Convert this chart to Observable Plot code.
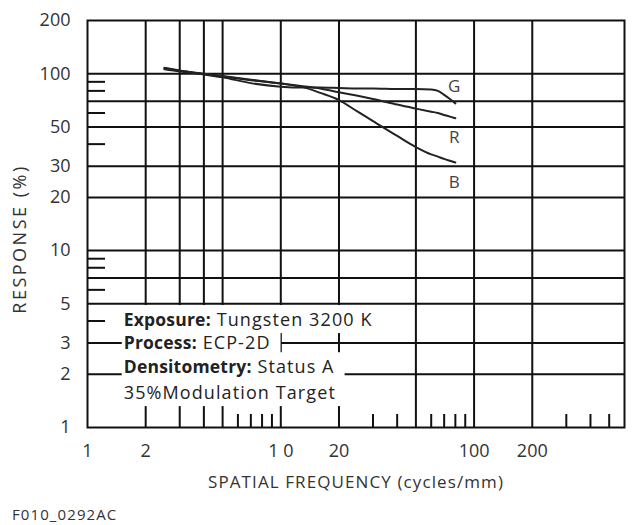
<!DOCTYPE html>
<html><head><meta charset="utf-8">
<script src="https://cdn.jsdelivr.net/npm/d3@7"></script>
<script src="https://cdn.jsdelivr.net/npm/@observablehq/plot@0.6"></script>
<style>
body{margin:0;background:#fff;}
#chart{position:relative;width:642px;height:525px;font-family:"Open Sans",sans-serif;}
#caption{position:absolute;left:12px;top:504px;font-size:15px;letter-spacing:1.1px;color:#333;font-family:"Open Sans",sans-serif;}
</style></head><body><div id="chart"></div>
<script>
// Spatial frequency (cycles/mm) sample points
const freq  = [2.5, 3, 4, 5, 7, 10, 13, 16, 20, 25, 30, 40, 50, 60, 65, 70, 75, 80];
// Response (%) per layer
const respG = [108, 104.5, 99, 95.5, 88.5, 84.5, 83.5, 83.5, 83, 82.5, 82.5, 82, 82, 81.5, 80, 76, 72, 68];
const respR = [106, 103, 99.5, 96.5, 92, 88, 85, 82.5, 78.5, 75, 72, 67, 63.5, 61, 60, 58.5, 57.2, 56];
const respB = [107, 104, 100, 97, 92.5, 88, 84, 78, 71, 61, 54, 44.5, 38.5, 35, 34, 33, 32.2, 31.5];
const seriesNames = ["G", "R", "B"];
const labelFreq = 79;
const labelResp = [84.7, 43.3, 24.3];

const xTicks = [1, 2, 3, 4, 5, 10, 20, 50, 100, 200, 600];
const xTickLabels = ["1", "2", "3", "4", "5", "1 0", "20", "50", "100", "200", "600"];
const yTicks = [1, 2, 3, 5, 7, 10, 20, 30, 50, 70, 100, 200];
const xGrid = [2, 3, 4, 5, 10, 20, 50, 100, 200];
const yGrid = [2, 3, 5, 7, 10, 20, 30, 50, 70, 100];
const xMinor = [6, 7, 8, 9, 30, 40, 60, 70, 80, 90, 300, 400, 500];
const yMinor = [4, 6, 8, 9, 40, 60, 80, 90];

const xTitle = "SPATIAL FREQUENCY (cycles/mm)";
const yTitle = "RESPONSE (%)";
const notes = ["Exposure: Tungsten 3200 K", "Process: ECP-2D", "Densitometry: Status A", "35%Modulation Target"];
const noteFreq = 1.54;
const noteResp = [4.03, 2.985, 2.18, 1.557];

const data = freq.flatMap((f, i) => [
  {f, r: respG[i], s: "G"},
  {f, r: respR[i], s: "R"},
  {f, r: respB[i], s: "B"}
]);

const ink = "#111";
const plot = Plot.plot({
  width: 642, height: 500,
  marginLeft: 87, marginRight: 18, marginTop: 20, marginBottom: 73,
  style: {fontFamily: "'Open Sans', sans-serif", fontSize: "18px", color: "#333", background: "white"},
  x: {type: "log", domain: [1, 600]},
  y: {type: "log", domain: [1, 200]},
  marks: [
    Plot.gridX(xGrid, {stroke: ink, strokeOpacity: 1, strokeWidth: 2}),
    Plot.gridY(yGrid, {stroke: ink, strokeOpacity: 1, strokeWidth: 2}),
    Plot.axisX(xMinor, {tickSize: -13, tickFormat: () => "", stroke: ink, strokeWidth: 2, label: null}),
    Plot.axisY(yMinor, {tickSize: -18, tickFormat: () => "", stroke: ink, strokeWidth: 2, label: null}),
    Plot.axisX(xTicks, {tickSize: 0, tickPadding: 17, tickFormat: d => xTickLabels[xTicks.indexOf(d)], label: null}),
    Plot.axisY(yTicks, {tickSize: 0, tickPadding: 17, tickFormat: d => String(d), label: null}),
    Plot.frame({stroke: ink, strokeWidth: 2}),
    Plot.line(data, {x: "f", y: "r", z: "s", stroke: "#222", strokeWidth: 2, curve: "monotone-x"}),
    Plot.text(seriesNames, {x: () => labelFreq, y: (d, i) => labelResp[i], text: d => d,
      fontSize: 17, fill: "#444"}),
    Plot.text([xTitle], {frameAnchor: "bottom", dy: 60, text: d => d, fontSize: 17, fill: "#333"}),
    Plot.text([yTitle], {frameAnchor: "left", textAnchor: "middle", dx: -67, dy: 15, rotate: -90,
      text: d => d, fontSize: 18, fill: "#333"}),
    Plot.text(notes, {x: () => noteFreq, y: (d, i) => noteResp[i], text: d => d,
      textAnchor: "start", lineAnchor: "middle", fontSize: 17.5, fill: "#222"})
  ]
});

const chart = document.getElementById("chart");
chart.appendChild(plot);
const cap = document.createElement("div");
cap.id = "caption";
cap.textContent = "F010_0292AC";
chart.appendChild(cap);

// bold lead-ins for the note lines
const svgNS = "http://www.w3.org/2000/svg";
const noteTexts = [];
plot.querySelectorAll("text").forEach(t => {
  const s = t.textContent;
  if (t.textContent === xTitle) t.setAttribute("letter-spacing", "1.1");
  if (t.textContent === yTitle) t.setAttribute("letter-spacing", "2.5");
  if (notes.indexOf(s) < 0) return;
  const k = s.indexOf(":");
  t.textContent = "";
  if (k >= 0) {
    const b = document.createElementNS(svgNS, "tspan");
    b.setAttribute("font-weight", "bold");
    b.setAttribute("letter-spacing", "0.2");
    b.textContent = s.slice(0, k + 1);
    t.appendChild(b);
  }
  const n = document.createElementNS(svgNS, "tspan");
  n.setAttribute("letter-spacing", "1.1");
  n.setAttribute("font-size", "18");
  n.textContent = s.slice(k + 1);
  t.appendChild(n);
  noteTexts.push(t);
});
// white box behind each note line, sized from the rendered text
const boxes = noteTexts.map(t => {
  const bb = t.getBBox();
  const r = document.createElementNS(svgNS, "rect");
  r.setAttribute("x", bb.x - 2);
  r.setAttribute("y", bb.y - 2);
  r.setAttribute("width", bb.width + 12);
  r.setAttribute("height", bb.height + 4);
  r.setAttribute("fill", "white");
  const tr = t.getAttribute("transform");
  if (tr) r.setAttribute("transform", tr);
  return [t, r];
});
boxes.forEach(([t, r]) => t.parentNode.insertBefore(r, t.parentNode.firstChild));
</script></body></html>
